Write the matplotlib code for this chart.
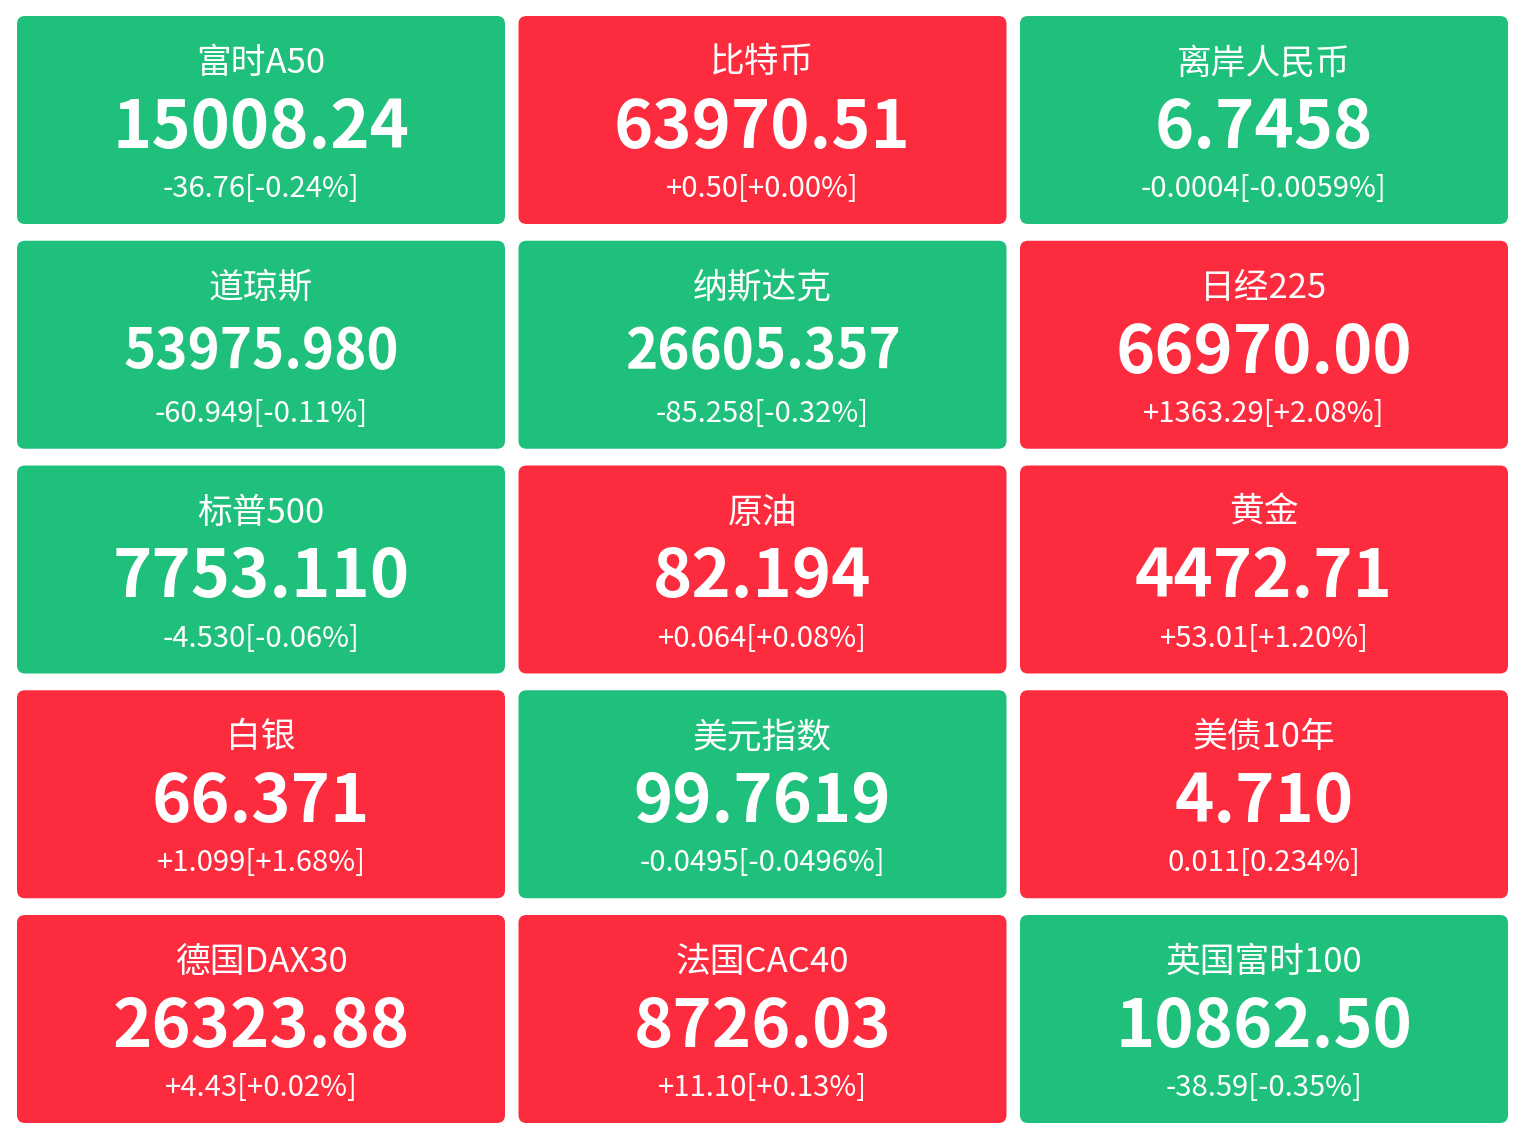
import matplotlib
matplotlib.use("Agg")
import matplotlib.pyplot as plt
from matplotlib.patches import FancyBboxPatch

plt.rcParams['font.family'] = ['Noto Sans CJK SC', 'DejaVu Sans']

# 行情数据
names = ['富时A50', '比特币', '离岸人民币',
         '道琼斯', '纳斯达克', '日经225',
         '标普500', '原油', '黄金',
         '白银', '美元指数', '美债10年',
         '德国DAX30', '法国CAC40', '英国富时100']
prices = ['15008.24', '63970.51', '6.7458',
          '53975.980', '26605.357', '66970.00',
          '7753.110', '82.194', '4472.71',
          '66.371', '99.7619', '4.710',
          '26323.88', '8726.03', '10862.50']
changes = ['-36.76[-0.24%]', '+0.50[+0.00%]', '-0.0004[-0.0059%]',
           '-60.949[-0.11%]', '-85.258[-0.32%]', '+1363.29[+2.08%]',
           '-4.530[-0.06%]', '+0.064[+0.08%]', '+53.01[+1.20%]',
           '+1.099[+1.68%]', '-0.0495[-0.0496%]', '0.011[0.234%]',
           '+4.43[+0.02%]', '+11.10[+0.13%]', '-38.59[-0.35%]']
up = [False, True, False,
      False, False, True,
      False, True, True,
      True, False, True,
      True, True, False]

GREEN = '#1fc07c'
RED = '#fc2b3e'

W, H = 1522, 1136
fig = plt.figure(figsize=(W / 100, H / 100), dpi=100)
fig.patch.set_facecolor('white')
ax = fig.add_axes([0, 0, 1, 1])
ax.set_xlim(0, W)
ax.set_ylim(H, 0)
ax.axis('off')

ncol = 3
tile_w, tile_h = 488, 208
step_x, step_y = 501.5, 224.75
x_start, y_start = 17, 16

for i, name in enumerate(names):
    r, c = divmod(i, ncol)
    x0 = x_start + c * step_x
    y0 = y_start + r * step_y
    rad = 8
    box = FancyBboxPatch((x0 + rad, y0 + rad), tile_w - 2 * rad, tile_h - 2 * rad,
                         boxstyle='round,pad=%d' % rad,
                         facecolor=RED if up[i] else GREEN, edgecolor='none')
    ax.add_patch(box)
    cx = x0 + tile_w / 2
    # 长数字会被缩小以适应卡片
    scale = 1.0 if len(prices[i]) <= 8 else 0.82
    ax.text(cx, y0 + 57, name, color='white', fontsize=25, ha='center', va='baseline')
    ax.text(cx, y0 + 107 + 25 * scale, prices[i], color='white', fontsize=48 * scale,
            fontweight='bold', ha='center', va='baseline')
    ax.text(cx, y0 + 181, changes[i], color='white', fontsize=21, ha='center', va='baseline')

fig.savefig('out.png', dpi=100, facecolor='white')
